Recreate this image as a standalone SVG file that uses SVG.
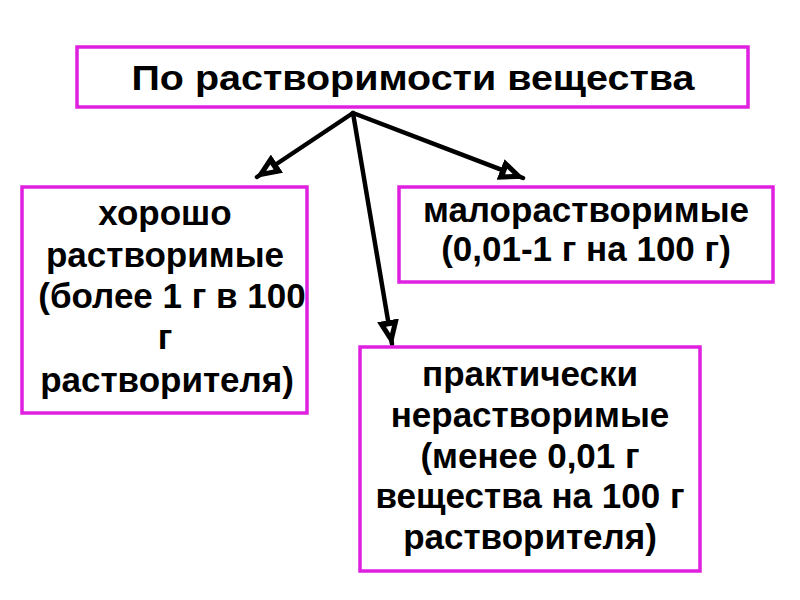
<svg xmlns="http://www.w3.org/2000/svg" width="800" height="600" viewBox="0 0 800 600">
<defs>
<style>
.box{fill:#fff;stroke:#e020e0;stroke-width:3.5}
.t{font-family:"Liberation Sans",Arial,sans-serif;font-weight:bold;font-size:35px;fill:#000;text-anchor:middle}
.title{font-size:34.5px}
.c{stroke:#000;stroke-width:4.5;fill:none;stroke-linecap:round}
</style>
<marker id="ah" viewBox="0 0 26 22" refX="24" refY="11" markerWidth="26" markerHeight="22" markerUnits="userSpaceOnUse" orient="auto">
<path d="M0,0 L26,11 L0,22 Z" fill="#000"/>
<path d="M6,8 L13,11 L6,14 Z" fill="#fff"/>
</marker>
</defs>
<rect width="800" height="600" fill="#fff"/>
<g id="connectors">
<line class="c" x1="353" y1="113" x2="257" y2="177" marker-end="url(#ah)"/>
<line class="c" x1="353" y1="113" x2="523" y2="178" marker-end="url(#ah)"/>
<line class="c" x1="353" y1="113" x2="392" y2="344" marker-end="url(#ah)"/>
</g>
<g id="root">
<rect class="box" x="77" y="47" width="671" height="60"/>
<text class="t title" x="413" y="89.5" textLength="563" lengthAdjust="spacingAndGlyphs">По растворимости вещества</text>
</g>
<g id="good">
<rect class="box" x="22" y="187" width="285" height="226"/>
<text class="t" x="165" y="225">хорошо</text>
<text class="t" x="165" y="267">растворимые</text>
<text class="t" x="172" y="308">(более 1 г в 100</text>
<text class="t" x="165" y="349">г</text>
<text class="t" x="167" y="392">растворителя)</text>
</g>
<g id="low">
<rect class="box" x="399" y="187" width="374" height="95"/>
<text class="t" x="586" y="222">малорастворимые</text>
<text class="t" x="586" y="261">(0,01-1 г на 100 г)</text>
</g>
<g id="insoluble">
<rect class="box" x="360" y="347" width="340" height="224"/>
<text class="t" x="530" y="386">практически</text>
<text class="t" x="530" y="427">нерастворимые</text>
<text class="t" x="530" y="468">(менее 0,01 г</text>
<text class="t" x="530" y="508">вещества на 100 г</text>
<text class="t" x="530" y="549">растворителя)</text>
</g>
</svg>
